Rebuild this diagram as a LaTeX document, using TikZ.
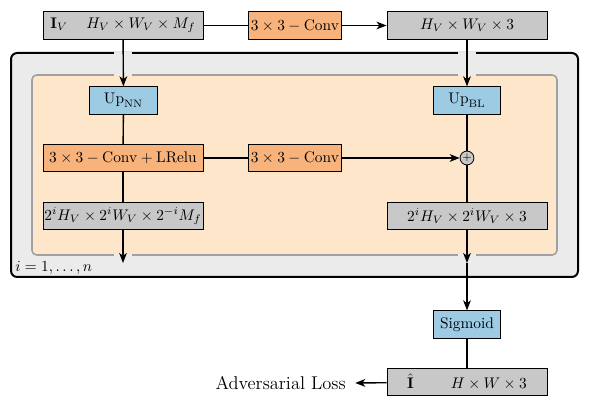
\documentclass[tikz,border=0pt]{standalone}
\usetikzlibrary{arrows.meta}
\definecolor{boxgray}{HTML}{C8C8C8}
\definecolor{boxorange}{HTML}{F8B27C}
\definecolor{boxblue}{HTML}{9DCBE4}
\definecolor{outerfill}{HTML}{EBEBEB}
\definecolor{innerfill}{HTML}{FDE6C9}
\definecolor{innerline}{HTML}{A0A0A0}
\begin{document}
\begin{tikzpicture}[x=0.65pt,y=-0.65pt,
  box/.style={draw=black, line width=0.6pt, minimum height=17.8pt, inner sep=0pt},
  graybox/.style={box, fill=boxgray, minimum width=104pt},
  orangewide/.style={box, fill=boxorange, minimum width=104pt},
  orangebox/.style={box, fill=boxorange, minimum width=61pt},
  bluebox/.style={box, fill=boxblue, minimum width=44pt},
  plusnode/.style={circle, draw=black, line width=0.5pt, fill=boxgray, minimum size=9pt, inner sep=0pt},
  conn/.style={line width=0.9pt},
  arr/.style={conn, -{Stealth[length=6.5pt,width=5pt,inset=1.8pt]}},
  gapfill/.style={fill=outerfill}]
\useasboundingbox (0,0) rectangle (593,409);
% frames
\draw[fill=outerfill, line width=1.3pt, rounded corners=4pt] (11,53) rectangle (578,277);
\draw[fill=innerfill, draw=innerline, line width=1pt, rounded corners=3pt] (32,75) rectangle (557,255);
% gaps in frames where arrows cross
\fill[gapfill] (114,51.7) rectangle (132,54.3);
\fill[gapfill] (458,51.7) rectangle (476,54.3);
\fill[gapfill] (114,73.9) rectangle (132,76.1);
\fill[gapfill] (458,73.9) rectangle (476,76.1);
\fill[gapfill] (114,253.9) rectangle (132,256.1);
\fill[gapfill] (458,253.9) rectangle (476,256.1);
% nodes
\node[graybox] (iv) at (123,25.5) {$\mathbf{I}_V\hspace{12pt}H_V\times W_V\times M_f$};
\node[orangebox] (convtop) at (295,25.5) {$3\times3-\mathrm{Conv}$};
\node[graybox] (hw3) at (467,25.5) {$H_V\times W_V\times 3$};
\node[bluebox] (upnn) at (123.5,100.5) {$\mathrm{Up}_{\mathrm{NN}}$};
\node[bluebox] (upbl) at (467,100.5) {$\mathrm{Up}_{\mathrm{BL}}$};
\node[orangewide] (lrelu) at (123,158) {$3\times3-\mathrm{Conv}+\mathrm{LRelu}$};
\node[orangebox] (convmid) at (295,158) {$3\times3-\mathrm{Conv}$};
\node[plusnode] (plus) at (467,158) {\scriptsize$+$};
\node[graybox] (outl) at (123,216) {$2^iH_V\times 2^iW_V\times 2^{-i}M_f$};
\node[graybox] (outr) at (467,216) {$2^iH_V\times 2^iW_V\times 3$};
\node[bluebox] (sig) at (467,324.5) {Sigmoid};
\node[graybox] (final) at (467,382) {$\hat{\mathbf{I}}$\hspace{24pt}$H\times W\times 3$};
\node[anchor=east, inner sep=0pt, font=\large] (adv) at (346,383) {Adversarial Loss};
\node[anchor=west, inner sep=0pt] (ilabel) at (15,268) {$i=1,\ldots,n$};
\coordinate (lend) at (123,263);
\coordinate (rend) at (467,263);
% connectors
\draw[conn] (iv) -- (convtop);
\draw[arr] (convtop) -- (hw3);
\draw[arr] (iv) -- (upnn);
\draw[arr] (hw3) -- (upbl);
\draw[conn] (upnn) -- (lrelu);
\draw[conn] (lrelu) -- (convmid);
\draw[arr] (convmid) -- (plus);
\draw[conn] (upbl) -- (plus);
\draw[conn] (lrelu) -- (outl);
\draw[conn] (plus) -- (outr);
\draw[arr] (outl) -- (lend);
\draw[arr] (outr) -- (rend);
\draw[arr] (rend) -- (sig);
\draw[conn] (sig) -- (final);
\draw[arr] (final) -- ([xshift=6pt]adv.east);
\end{tikzpicture}
\end{document}
